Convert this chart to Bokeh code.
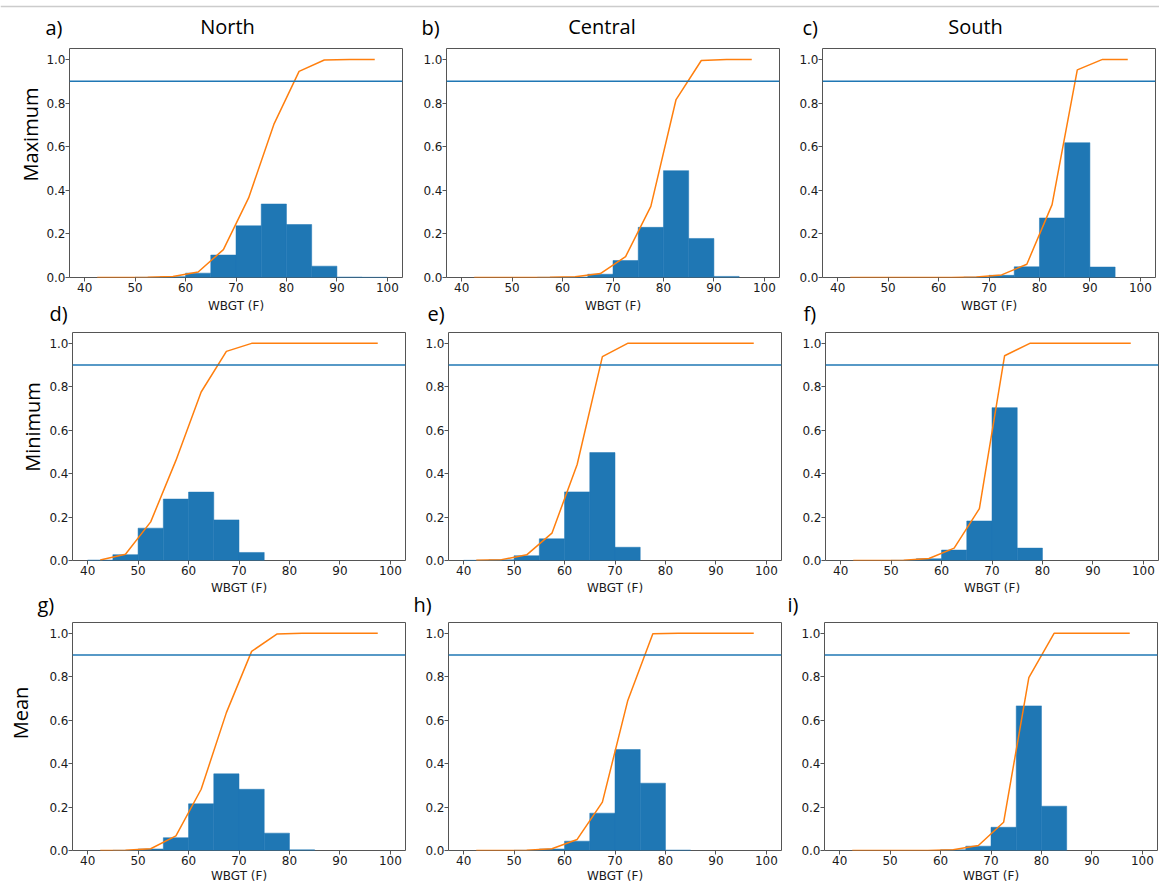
import numpy as np
from bokeh.plotting import figure
from bokeh.layouts import column, row
from bokeh.models import Range1d, Span, Label, FixedTicker, PrintfTickFormatter
from bokeh.embed import file_html
from bokeh.resources import INLINE

# 5 F bins of daily WBGT
bin_edges = [40, 45, 50, 55, 60, 65, 70, 75, 80, 85, 90, 95, 100]
regions = ["North", "Central", "South"]
statistics = ["Maximum", "Minimum", "Mean"]
panel_letters = [["a)", "b)", "c)"], ["d)", "e)", "f)"], ["g)", "h)", "i)"]]
x_label = "WBGT (F)"
threshold = 0.9
x_ticks = [40, 50, 60, 70, 80, 90, 100]
y_ticks = [0.0, 0.2, 0.4, 0.6, 0.8, 1.0]

# relative frequency in each bin
max_north = [0, 0, 0.001, 0.004, 0.020, 0.103, 0.237, 0.337, 0.243, 0.052, 0.002, 0.001]
max_central = [0, 0, 0, 0.001, 0.002, 0.015, 0.078, 0.230, 0.490, 0.179, 0.005, 0]
max_south = [0, 0, 0, 0, 0, 0.002, 0.010, 0.049, 0.273, 0.618, 0.048, 0]
min_north = [0.002, 0.027, 0.149, 0.283, 0.315, 0.187, 0.037, 0, 0, 0, 0, 0]
min_central = [0.001, 0.003, 0.022, 0.100, 0.316, 0.497, 0.061, 0, 0, 0, 0, 0]
min_south = [0, 0, 0.001, 0.008, 0.048, 0.182, 0.704, 0.057, 0, 0, 0, 0]
mean_north = [0, 0.001, 0.007, 0.059, 0.215, 0.353, 0.282, 0.080, 0.003, 0, 0, 0]
mean_central = [0, 0, 0.001, 0.007, 0.043, 0.172, 0.465, 0.310, 0.002, 0, 0, 0]
mean_south = [0, 0, 0, 0, 0.003, 0.020, 0.107, 0.666, 0.204, 0, 0, 0]

frequencies = [
    [max_north, max_central, max_south],
    [min_north, min_central, min_south],
    [mean_north, mean_central, mean_south],
]

BLUE = "#1f77b4"
ORANGE = "#ff7f0e"
SPINE = "#555555"
INK = "#1a1a1a"
TICK_FONT = "DejaVu Sans"
TEXT_FONT = "Open Sans"

# ---- page geometry (pixels) ----
PAGE_W = 1159
HEADER_H = 41
strip_w = [43, 46, 46]
SEP_H = [29, 37]
FRAME_W = 333
frame_h = [229, 228, 228]
border_top = [7, 4, 3]
border_bottom = [22, 22, 42]
# (left, right) border of each panel
border_lr = [
    [(26, 10), (34, 11), (32, 4)],
    [(26, 7), (36, 4), (40, 1)],
    [(26, 7), (36, 4), (39, 2)],
]
row_h = [border_top[r] + frame_h[r] + border_bottom[r] for r in range(3)]
row_top = [HEADER_H,
           HEADER_H + row_h[0] + SEP_H[0],
           HEADER_H + row_h[0] + SEP_H[0] + row_h[1] + SEP_H[1]]


def frame_left(r, c):
    x = strip_w[r]
    for k in range(c):
        x += sum(border_lr[r][k]) + FRAME_W
    return x + border_lr[r][c][0]


# text placement on the page: (x, y) with y from the top
title_x = [227, 601.5, 975]
title_y = 26
letter_x = [[45, 421, 802], [49, 427, 803], [37, 413, 787]]
letter_y = [26.5, 312.5, 603.5]
x_label_y = [305, 587]
row_label_xy = [(29.5, 156), (32, 448.5), (19.5, 754.5)]

edges = np.array(bin_edges, dtype=float)
left_edges = edges[:-1]
right_edges = edges[1:]
centers = (left_edges + right_edges) / 2


def blank(width, height):
    p = figure(width=width, height=height, x_range=Range1d(0, width),
               y_range=Range1d(0, height), min_border=0, title=None,
               x_axis_location=None, y_axis_location=None,
               toolbar_location=None, output_backend="svg",
               outline_line_color=None, border_fill_color="white")
    p.xgrid.visible = False
    p.ygrid.visible = False
    return p


def put_text(p, top, height, left, text, x, y, font=TEXT_FONT, size="20px",
             align="left", angle=0.0, color="black"):
    p.add_layout(Label(x=x - left, y=top + height - y, x_units="screen",
                       y_units="screen", text=text, text_font=font,
                       text_font_size=size, text_align=align,
                       text_baseline="middle", angle=angle, text_color=color))


def make_panel(r, c):
    freq = np.array(frequencies[r][c])
    cdf = np.cumsum(freq)
    filled = freq > 0
    bl, br = border_lr[r][c]
    p = figure(
        frame_width=FRAME_W, frame_height=frame_h[r],
        x_range=Range1d(37, 103), y_range=Range1d(0, 1.05),
        min_border_left=bl, min_border_right=br,
        min_border_top=border_top[r], min_border_bottom=border_bottom[r],
        toolbar_location=None, output_backend="svg", title=None,
        background_fill_color="white", border_fill_color="white",
    )
    p.xgrid.visible = False
    p.ygrid.visible = False
    p.outline_line_color = SPINE
    p.outline_line_width = 1

    # histogram bars (edge in the fill colour so adjacent bars join cleanly)
    p.quad(left=left_edges[filled], right=right_edges[filled], bottom=0,
           top=freq[filled], fill_color=BLUE, line_color=BLUE, line_width=0.5)
    p.add_layout(Span(location=threshold, dimension="width",
                      line_color=BLUE, line_width=1.5))
    # cumulative distribution at bin centres
    p.line(centers, cdf, line_color=ORANGE, line_width=1.5)

    for ax in (p.xaxis[0], p.yaxis[0]):
        ax.axis_line_color = None
        ax.major_tick_in = 0
        ax.major_tick_out = 4
        ax.major_tick_line_color = SPINE
        ax.minor_tick_line_color = None
        ax.major_label_text_font = TICK_FONT
        ax.major_label_text_font_size = "12px"
        ax.major_label_text_color = INK
    p.xaxis.major_label_standoff = 1
    p.yaxis.major_label_standoff = 0
    p.xaxis.ticker = FixedTicker(ticks=x_ticks)
    p.yaxis.ticker = FixedTicker(ticks=y_ticks)
    p.yaxis.formatter = PrintfTickFormatter(format="%.1f")
    if r == 2:
        p.xaxis.axis_label = x_label
        p.xaxis.axis_label_text_font = TICK_FONT
        p.xaxis.axis_label_text_font_size = "12px"
        p.xaxis.axis_label_text_font_style = "normal"
        p.xaxis.axis_label_text_color = INK
        p.xaxis.axis_label_standoff = 1
    return p


# column titles and first-row panel letters
header = blank(PAGE_W, HEADER_H)
header.add_layout(Span(location=HEADER_H - 6, dimension="width",
                       line_color="#cccccc", line_width=1.5))
for c in range(3):
    put_text(header, 0, HEADER_H, 0, regions[c], title_x[c], title_y, align="center")
    put_text(header, 0, HEADER_H, 0, panel_letters[0][c], letter_x[0][c], letter_y[0])

blocks = [header]
for r in range(3):
    strip = blank(strip_w[r], row_h[r])
    lx, ly = row_label_xy[r]
    put_text(strip, row_top[r], row_h[r], 0, statistics[r], lx, ly,
             align="center", angle=np.pi / 2)
    blocks.append(row(strip, *[make_panel(r, c) for c in range(3)]))
    if r < 2:
        # x-axis titles of this row and the letters of the next row
        top = row_top[r] + row_h[r]
        sep = blank(PAGE_W, SEP_H[r])
        for c in range(3):
            cx = frame_left(r, c) + FRAME_W / 2
            put_text(sep, top, SEP_H[r], 0, x_label, cx, x_label_y[r],
                     font=TICK_FONT, size="12px", align="center", color=INK)
            put_text(sep, top, SEP_H[r], 0, panel_letters[r + 1][c],
                     letter_x[r + 1][c], letter_y[r + 1])
        blocks.append(sep)

layout = column(*blocks)

open("out.html", "w").write(file_html(layout, INLINE))
